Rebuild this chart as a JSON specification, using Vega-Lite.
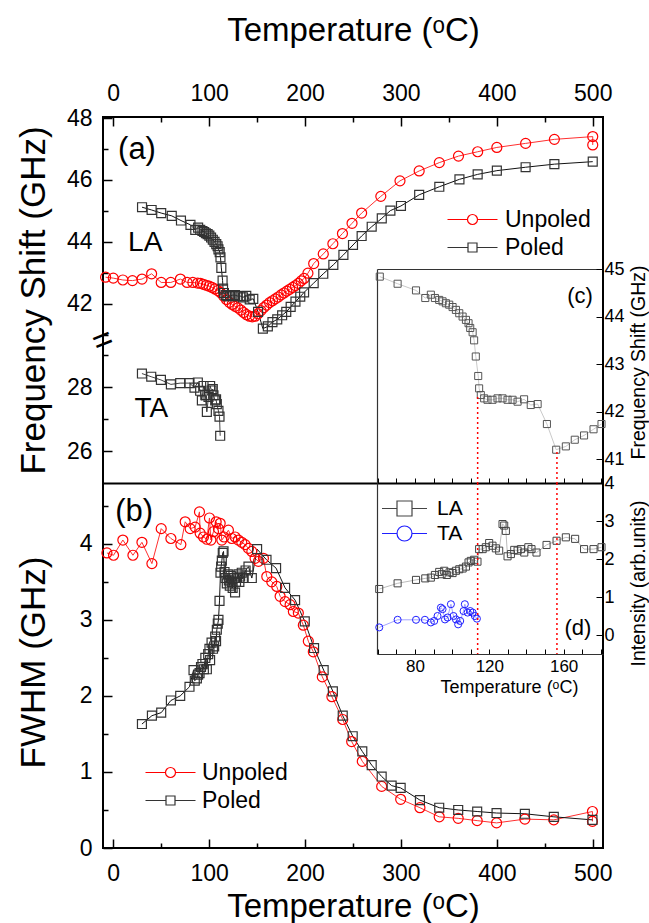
{
"$schema":"https://vega.github.io/schema/vega-lite/v6.json",
"width":500,"height":731,
"autosize":{"type":"none"},
"padding":{"left":103,"top":117,"right":46,"bottom":75},
"background":"white",
"config":{
 "view":{"stroke":"black","strokeWidth":2},
 "font":"Liberation Sans",
 "axis":{"grid":false,"domain":false,"labelFont":"Liberation Sans","labelFontSize":23,"labelColor":"black","tickColor":"black","tickWidth":1.5,"titleFont":"Liberation Sans","titleFontSize":33,"titleFontWeight":"normal","titleColor":"black","labelFlush":false,"labelOverlap":false,"labelBound":false},
 "legend":{"labelFont":"Liberation Sans","labelColor":"black","title":null,"orient":"none","padding":0,"symbolStrokeWidth":1.2},
 "text":{"font":"Liberation Sans","color":"black"}
},
"datasets":{
 "unpoledLA":[{"T":-8,"f":42.86},{"T":0,"f":42.83},{"T":10,"f":42.77},{"T":20,"f":42.75},{"T":30,"f":42.8},{"T":40,"f":42.97},{"T":50,"f":42.69},{"T":60,"f":42.69},{"T":70,"f":42.8},{"T":77,"f":42.69},{"T":83,"f":42.69},{"T":88,"f":42.67},{"T":91,"f":42.66},{"T":94,"f":42.63},{"T":97,"f":42.6},{"T":100,"f":42.57},{"T":103,"f":42.53},{"T":106,"f":42.48},{"T":109,"f":42.43},{"T":112,"f":42.36},{"T":115,"f":42.25},{"T":118,"f":42.14},{"T":121,"f":42.05},{"T":124,"f":41.98},{"T":127,"f":41.92},{"T":130,"f":41.87},{"T":133,"f":41.8},{"T":136,"f":41.72},{"T":139,"f":41.65},{"T":142,"f":41.6},{"T":145,"f":41.58},{"T":148,"f":41.6},{"T":151,"f":41.68},{"T":154,"f":41.78},{"T":157,"f":41.88},{"T":160,"f":41.96},{"T":163,"f":42.04},{"T":166,"f":42.1},{"T":169,"f":42.16},{"T":172,"f":42.22},{"T":175,"f":42.29},{"T":178,"f":42.35},{"T":181,"f":42.41},{"T":184,"f":42.47},{"T":187,"f":42.53},{"T":190,"f":42.59},{"T":193,"f":42.66},{"T":196,"f":42.74},{"T":199,"f":42.82},{"T":203,"f":42.99},{"T":209,"f":43.3},{"T":219,"f":43.61},{"T":229,"f":43.94},{"T":239,"f":44.27},{"T":249,"f":44.6},{"T":259,"f":44.93},{"T":279,"f":45.47},{"T":299,"f":45.97},{"T":319,"f":46.29},{"T":340,"f":46.56},{"T":360,"f":46.77},{"T":380,"f":46.91},{"T":400,"f":47.05},{"T":430,"f":47.18},{"T":460,"f":47.31},{"T":500,"f":47.4},{"T":500,"f":47.13}],
 "poledLA":[{"T":30,"f":45.12},{"T":40,"f":45.03},{"T":50,"f":44.93},{"T":61,"f":44.84},{"T":70.6,"f":44.69},{"T":80.5,"f":44.55},{"T":85.5,"f":44.39},{"T":88.5,"f":44.46},{"T":90.7,"f":44.39},{"T":93,"f":44.35},{"T":94.8,"f":44.32},{"T":96.6,"f":44.28},{"T":98.4,"f":44.25},{"T":100.2,"f":44.2},{"T":102,"f":44.14},{"T":103.8,"f":44.07},{"T":105.6,"f":44.0},{"T":107.4,"f":43.93},{"T":108.8,"f":43.86},{"T":109.7,"f":43.76},{"T":111,"f":43.67},{"T":111.8,"f":43.5},{"T":112.7,"f":43.16},{"T":114,"f":42.75},{"T":114.5,"f":42.49},{"T":115.4,"f":42.35},{"T":117.2,"f":42.28},{"T":119,"f":42.25},{"T":121.7,"f":42.25},{"T":124.4,"f":42.28},{"T":127.1,"f":42.28},{"T":129.8,"f":42.25},{"T":132.5,"f":42.25},{"T":135.2,"f":42.21},{"T":138.7,"f":42.26},{"T":142.3,"f":42.14},{"T":146,"f":42.16},{"T":151,"f":41.74},{"T":156,"f":41.2},{"T":161.2,"f":41.27},{"T":166,"f":41.41},{"T":171,"f":41.5},{"T":176.1,"f":41.63},{"T":180.4,"f":41.74},{"T":185,"f":41.9},{"T":190,"f":42.07},{"T":195,"f":42.23},{"T":199,"f":42.37},{"T":209,"f":42.67},{"T":219,"f":42.97},{"T":229.5,"f":43.26},{"T":240,"f":43.58},{"T":250,"f":43.9},{"T":259,"f":44.19},{"T":269.5,"f":44.49},{"T":280,"f":44.76},{"T":289,"f":45.01},{"T":300,"f":45.16},{"T":319,"f":45.52},{"T":340,"f":45.78},{"T":361,"f":46.02},{"T":380,"f":46.18},{"T":400,"f":46.3},{"T":430,"f":46.41},{"T":460,"f":46.51},{"T":500,"f":46.59}],
 "poledTA":[{"T":29.9,"f":28.43},{"T":39.6,"f":28.33},{"T":49.7,"f":28.23},{"T":60.1,"f":28.09},{"T":69.8,"f":28.13},{"T":79.5,"f":28.13},{"T":84.7,"f":27.99},{"T":88.2,"f":28.15},{"T":90.6,"f":27.89},{"T":92.4,"f":27.59},{"T":94.1,"f":28.04},{"T":96,"f":27.75},{"T":97.6,"f":27.23},{"T":99.3,"f":27.7},{"T":101,"f":28.04},{"T":102.5,"f":27.9},{"T":103.8,"f":27.94},{"T":104.5,"f":27.75},{"T":106.3,"f":27.59},{"T":107.2,"f":27.62},{"T":108,"f":27.47},{"T":109.7,"f":27.26},{"T":110.8,"f":27.08},{"T":111.5,"f":26.48}],
 "unpoledW":[{"T":-6.6,"w":3.88},{"T":0.3,"w":3.85},{"T":10,"w":4.05},{"T":20.5,"w":3.85},{"T":29.9,"w":4.02},{"T":40.3,"w":3.74},{"T":50,"w":4.2},{"T":60.1,"w":4.07},{"T":70.5,"w":3.99},{"T":75,"w":4.29},{"T":80.2,"w":4.2},{"T":85.4,"w":4.22},{"T":89.9,"w":4.42},{"T":90.6,"w":4.14},{"T":94.1,"w":4.09},{"T":97.6,"w":4.06},{"T":100.3,"w":4.34},{"T":101.8,"w":4.05},{"T":104.5,"w":4.16},{"T":107.3,"w":4.29},{"T":109.7,"w":4.2},{"T":111.5,"w":4.27},{"T":113.2,"w":4.05},{"T":115.6,"w":4.09},{"T":120.1,"w":4.18},{"T":123.6,"w":4.07},{"T":127.1,"w":4.09},{"T":130.5,"w":4.05},{"T":134,"w":4.02},{"T":137.5,"w":3.99},{"T":141,"w":3.94},{"T":144.5,"w":3.9},{"T":147.9,"w":3.81},{"T":151.4,"w":3.77},{"T":156.6,"w":3.81},{"T":160.1,"w":3.57},{"T":165.3,"w":3.5},{"T":170.5,"w":3.44},{"T":174,"w":3.31},{"T":179.2,"w":3.24},{"T":184.4,"w":3.2},{"T":187.8,"w":3.11},{"T":193,"w":3.09},{"T":198.2,"w":2.93},{"T":203.4,"w":2.72},{"T":208.6,"w":2.58},{"T":218,"w":2.25},{"T":228,"w":1.99},{"T":239.3,"w":1.69},{"T":248.6,"w":1.4},{"T":259.7,"w":1.14},{"T":279.9,"w":0.81},{"T":299.7,"w":0.64},{"T":319.8,"w":0.53},{"T":339.9,"w":0.41},{"T":359.7,"w":0.39},{"T":379.5,"w":0.36},{"T":399.7,"w":0.33},{"T":429.2,"w":0.38},{"T":459.4,"w":0.37},{"T":499.7,"w":0.48},{"T":499.7,"w":0.35}],
 "poledW":[{"T":29.9,"w":1.63},{"T":40.3,"w":1.74},{"T":50,"w":1.78},{"T":60.1,"w":1.94},{"T":69.8,"w":2.0},{"T":79.5,"w":2.12},{"T":83.7,"w":2.34},{"T":85,"w":2.2},{"T":87.2,"w":2.23},{"T":88.5,"w":2.28},{"T":90,"w":2.3},{"T":91.5,"w":2.38},{"T":93,"w":2.42},{"T":94.5,"w":2.35},{"T":96,"w":2.5},{"T":97.6,"w":2.35},{"T":99,"w":2.55},{"T":100.3,"w":2.62},{"T":101,"w":2.47},{"T":102.5,"w":2.7},{"T":104,"w":2.62},{"T":105.2,"w":2.65},{"T":106.3,"w":2.78},{"T":107.2,"w":2.72},{"T":108,"w":2.87},{"T":109,"w":2.95},{"T":109.7,"w":3.0},{"T":110.8,"w":3.25},{"T":111.8,"w":3.62},{"T":112.5,"w":3.7},{"T":113.2,"w":3.78},{"T":114.2,"w":3.88},{"T":115,"w":3.9},{"T":116,"w":3.63},{"T":117,"w":3.55},{"T":118.4,"w":3.48},{"T":119.5,"w":3.6},{"T":120.5,"w":3.52},{"T":121.5,"w":3.45},{"T":122.5,"w":3.58},{"T":123.5,"w":3.5},{"T":124.5,"w":3.42},{"T":125.5,"w":3.55},{"T":127,"w":3.36},{"T":128,"w":3.5},{"T":129,"w":3.55},{"T":130.5,"w":3.6},{"T":131.5,"w":3.5},{"T":132.3,"w":3.57},{"T":134,"w":3.62},{"T":136,"w":3.55},{"T":138,"w":3.65},{"T":141,"w":3.7},{"T":144.5,"w":3.55},{"T":150,"w":3.93},{"T":159.8,"w":3.79},{"T":169.8,"w":3.68},{"T":179.2,"w":3.42},{"T":189.6,"w":3.26},{"T":199.7,"w":2.98},{"T":209.4,"w":2.63},{"T":219.4,"w":2.34},{"T":229,"w":2.06},{"T":239.3,"w":1.74},{"T":249.7,"w":1.47},{"T":259.7,"w":1.27},{"T":269.5,"w":1.09},{"T":279.9,"w":0.94},{"T":290.3,"w":0.82},{"T":299.7,"w":0.79},{"T":319.8,"w":0.63},{"T":339.9,"w":0.53},{"T":359.7,"w":0.5},{"T":379.5,"w":0.48},{"T":399.7,"w":0.46},{"T":429.2,"w":0.45},{"T":459.4,"w":0.41},{"T":499.7,"w":0.37}],
 "intLA":[{"T":60.7,"i":1.21},{"T":70.6,"i":1.36},{"T":80.5,"i":1.45},{"T":85.5,"i":1.49},{"T":88.5,"i":1.51},{"T":90.7,"i":1.58},{"T":93,"i":1.66},{"T":94.3,"i":1.6},{"T":95.7,"i":1.69},{"T":97.1,"i":1.58},{"T":98.6,"i":1.65},{"T":100.2,"i":1.63},{"T":102,"i":1.69},{"T":103.8,"i":1.73},{"T":105.6,"i":1.75},{"T":107.4,"i":1.8},{"T":108.8,"i":1.91},{"T":110,"i":1.95},{"T":111.8,"i":1.98},{"T":113.6,"i":1.93},{"T":114.5,"i":2.26},{"T":116.4,"i":2.26},{"T":118.1,"i":2.31},{"T":119.9,"i":2.42},{"T":121.7,"i":2.35},{"T":123.5,"i":2.28},{"T":125.3,"i":2.22},{"T":127.1,"i":2.92},{"T":128,"i":2.88},{"T":128.9,"i":2.74},{"T":129.8,"i":2.07},{"T":131.6,"i":2.13},{"T":133.4,"i":2.24},{"T":135.2,"i":2.22},{"T":137,"i":2.26},{"T":138.8,"i":2.17},{"T":141,"i":2.31},{"T":142.7,"i":2.26},{"T":145.4,"i":2.17},{"T":150.8,"i":2.37},{"T":156.2,"i":2.48},{"T":161.2,"i":2.57},{"T":166.2,"i":2.53},{"T":171,"i":2.26},{"T":176.1,"i":2.26},{"T":180.4,"i":2.31}],
 "intTA":[{"T":60.7,"i":0.2},{"T":70.6,"i":0.4},{"T":80.5,"i":0.4},{"T":85.3,"i":0.4},{"T":88.5,"i":0.33},{"T":90.3,"i":0.37},{"T":92.1,"i":0.5},{"T":93.9,"i":0.72},{"T":94.8,"i":0.68},{"T":96.1,"i":0.41},{"T":97.5,"i":0.46},{"T":99.3,"i":0.81},{"T":100.7,"i":0.5},{"T":102,"i":0.41},{"T":103.2,"i":0.28},{"T":104.3,"i":0.37},{"T":106.1,"i":0.63},{"T":106.8,"i":0.81},{"T":108.3,"i":0.59},{"T":109.7,"i":0.63},{"T":111,"i":0.59},{"T":112.2,"i":0.5},{"T":113.3,"i":0.43}],
 "markers":[{"T":113.7,"ftop":42.31},{"T":156.4,"ftop":41.15}],
 "one":[{"k":1}]
},
"layer":[
 {"data":{"name":"unpoledLA"},"mark":{"type":"line","color":"#ff3030","strokeWidth":1},
  "encoding":{"x":{"field":"T","type":"quantitative","scale":{"domain":[-10.7,510.7],"nice":false,"zero":false},
    "axis":{"orient":"top","values":[0,100,200,300,400,500],"tickSize":-9,"labelPadding":21,"title":"Temperature (ᵒC)","titleY":-87,"titleBaseline":"middle"}},
   "y":{"field":"f","type":"quantitative","scale":{"domain":[40.8,48],"range":[224,1],"nice":false,"zero":false},
    "axis":{"orient":"left","values":[42,44,46,48],"tickSize":-9,"labelPadding":20,"title":"Frequency Shift (GHz)","titleFontSize":35,"titleX":-70,"titleY":183,"titleBaseline":"middle"}}}},
 {"data":{"name":"poledLA"},"mark":{"type":"line","color":"#111111","strokeWidth":1},
  "encoding":{"x":{"field":"T","type":"quantitative","scale":{"domain":[-10.7,510.7],"nice":false,"zero":false},"axis":null},
   "y":{"field":"f","type":"quantitative","scale":{"domain":[40.8,48],"range":[224,1],"nice":false,"zero":false},"axis":null}}},
 {"data":{"name":"unpoledLA"},"mark":{"type":"point","shape":"circle","filled":false,"size":100,"strokeWidth":1.2,"opacity":1},
  "encoding":{"x":{"field":"T","type":"quantitative","scale":{"domain":[-10.7,510.7],"nice":false,"zero":false},"axis":null},
   "y":{"field":"f","type":"quantitative","scale":{"domain":[40.8,48],"range":[224,1],"nice":false,"zero":false},"axis":null},
   "color":{"datum":"Unpoled","type":"nominal","scale":{"domain":["Unpoled"],"range":["#ff0000"]},
    "legend":{"legendX":358,"legendY":91,"labelFontSize":23,"symbolSize":100,"labelOffset":21,"symbolType":"M-5,0L-1,0M1,0L5,0M1,0A1,1,0,1,1,-1,0A1,1,0,1,1,1,0"}}}},
 {"data":{"name":"poledLA"},"mark":{"type":"point","shape":"square","filled":false,"size":80,"strokeWidth":1.2,"opacity":1},
  "encoding":{"x":{"field":"T","type":"quantitative","scale":{"domain":[-10.7,510.7],"nice":false,"zero":false},"axis":null},
   "y":{"field":"f","type":"quantitative","scale":{"domain":[40.8,48],"range":[224,1],"nice":false,"zero":false},"axis":null},
   "color":{"datum":"Poled","type":"nominal","scale":{"domain":["Poled"],"range":["#333333"]},
    "legend":{"legendX":358,"legendY":119,"labelFontSize":23,"symbolSize":100,"labelOffset":21,"symbolType":"M-5,0L-0.9,0M0.9,0L5,0M-0.9,-0.9L0.9,-0.9L0.9,0.9L-0.9,0.9Z"}}}},
 {"data":{"name":"poledTA"},"mark":{"type":"line","color":"#111111","strokeWidth":0.8},
  "encoding":{"x":{"field":"T","type":"quantitative","scale":{"domain":[-10.7,510.7],"nice":false,"zero":false},
    "axis":{"orient":"bottom","offset":-365,"domain":true,"domainColor":"black","domainWidth":2,"ticks":false,"labels":false,"title":null}},
   "y":{"field":"f","type":"quantitative","scale":{"domain":[25,29.45],"range":[366,224],"nice":false,"zero":false},
    "axis":{"orient":"left","values":[26,28],"tickSize":-9,"labelPadding":20,"title":null}}}},
 {"data":{"name":"poledTA"},"mark":{"type":"point","shape":"square","filled":false,"size":80,"strokeWidth":1.2,"opacity":1,"color":"#333333"},
  "encoding":{"x":{"field":"T","type":"quantitative","scale":{"domain":[-10.7,510.7],"nice":false,"zero":false},"axis":null},
   "y":{"field":"f","type":"quantitative","scale":{"domain":[25,29.45],"range":[366,224],"nice":false,"zero":false},"axis":null}}},
 {"data":{"name":"unpoledW"},"mark":{"type":"line","color":"#ff3030","strokeWidth":1},
  "encoding":{"x":{"field":"T","type":"quantitative","scale":{"domain":[-10.7,510.7],"nice":false,"zero":false},
    "axis":{"orient":"bottom","values":[0,100,200,300,400,500],"tickSize":-9,"labelPadding":23,"title":"Temperature (ᵒC)","titleY":58,"titleBaseline":"middle"}},
   "y":{"field":"w","type":"quantitative","scale":{"domain":[0,4.8],"range":[731,366],"nice":false,"zero":false},
    "axis":{"orient":"left","values":[0,1,2,3,4],"tickSize":-9,"labelPadding":20,"title":"FWHM (GHz)","titleFontSize":35,"titleX":-70,"titleY":545,"titleBaseline":"middle"}}}},
 {"data":{"name":"poledW"},"mark":{"type":"line","color":"#111111","strokeWidth":1},
  "encoding":{"x":{"field":"T","type":"quantitative","scale":{"domain":[-10.7,510.7],"nice":false,"zero":false},"axis":null},
   "y":{"field":"w","type":"quantitative","scale":{"domain":[0,4.8],"range":[731,366],"nice":false,"zero":false},"axis":null}}},
 {"data":{"name":"unpoledW"},"mark":{"type":"point","shape":"circle","filled":false,"size":100,"strokeWidth":1.2,"opacity":1},
  "encoding":{"x":{"field":"T","type":"quantitative","scale":{"domain":[-10.7,510.7],"nice":false,"zero":false},"axis":null},
   "y":{"field":"w","type":"quantitative","scale":{"domain":[0,4.8],"range":[731,366],"nice":false,"zero":false},"axis":null},
   "color":{"datum":"Unpoled","type":"nominal","scale":{"domain":["Unpoled"],"range":["#ff0000"]},
    "legend":{"legendX":56,"legendY":644,"labelFontSize":23,"symbolSize":100,"labelOffset":20,"symbolType":"M-5,0L-1,0M1,0L5,0M1,0A1,1,0,1,1,-1,0A1,1,0,1,1,1,0"}}}},
 {"data":{"name":"poledW"},"mark":{"type":"point","shape":"square","filled":false,"size":80,"strokeWidth":1.2,"opacity":1},
  "encoding":{"x":{"field":"T","type":"quantitative","scale":{"domain":[-10.7,510.7],"nice":false,"zero":false},"axis":null},
   "y":{"field":"w","type":"quantitative","scale":{"domain":[0,4.8],"range":[731,366],"nice":false,"zero":false},"axis":null},
   "color":{"datum":"Poled","type":"nominal","scale":{"domain":["Poled"],"range":["#333333"]},
    "legend":{"legendX":56,"legendY":672,"labelFontSize":23,"symbolSize":100,"labelOffset":20,"symbolType":"M-5,0L-0.9,0M0.9,0L5,0M-0.9,-0.9L0.9,-0.9L0.9,0.9L-0.9,0.9Z"}}}},
 {"data":{"name":"poledLA"},"transform":[{"filter":"datum.T >= 59.5 && datum.T <= 181.2"}],"mark":{"type":"line","color":"#bbbbbb","strokeWidth":0.8},
  "encoding":{"x":{"field":"T","type":"quantitative","scale":{"domain":[59.5,181.2],"range":[274,500],"nice":false,"zero":false},
    "axis":{"orient":"bottom","offset":-365,"values":[60,70,80,90,100,110,120,130,140,150,160,170,180],"tickSize":-5,"tickWidth":1,"labels":false,"title":null}},
   "y":{"field":"f","type":"quantitative","scale":{"domain":[40.5,45],"range":[366,152],"nice":false,"zero":false},
    "axis":{"orient":"right","values":[41,42,43,44,45],"tickSize":-7,"tickWidth":1,"labelPadding":8,"labelFontSize":18,"title":"Frequency Shift (GHz)","titleFontSize":19.5,"titleAngle":270,"titleX":35,"titleY":245,"titleBaseline":"middle"}}}},
 {"data":{"name":"poledLA"},"transform":[{"filter":"datum.T >= 59.5 && datum.T <= 181.2"}],"mark":{"type":"point","shape":"square","filled":false,"size":50,"strokeWidth":1,"opacity":1,"color":"#555555"},
  "encoding":{"x":{"field":"T","type":"quantitative","scale":{"domain":[59.5,181.2],"range":[274,500],"nice":false,"zero":false},"axis":null},
   "y":{"field":"f","type":"quantitative","scale":{"domain":[40.5,45],"range":[366,152],"nice":false,"zero":false},"axis":null}}},
 {"data":{"name":"intLA"},"mark":{"type":"line","color":"#aaaaaa","strokeWidth":0.8},
  "encoding":{"x":{"field":"T","type":"quantitative","scale":{"domain":[59.5,181.2],"range":[274,500],"nice":false,"zero":false},
    "axis":{"orient":"bottom","offset":-194,"values":[60,70,80,90,100,110,120,130,140,150,160,170,180],"labelExpr":"datum.value % 40 === 0 ? datum.label : ''","tickSize":-5,"tickWidth":1,"labelPadding":9,"labelFontSize":17,"domain":true,"domainColor":"#333333","domainWidth":1.2,"title":"Temperature (ᵒC)","titleFontSize":18,"titleX":406,"titleY":33,"titleBaseline":"middle"}},
   "y":{"field":"i","type":"quantitative","scale":{"domain":[-0.5,4],"range":[537,366],"nice":false,"zero":false},
    "axis":{"orient":"right","values":[0,1,2,3,4],"tickSize":-7,"tickWidth":1,"labelPadding":8,"labelFontSize":18,"title":"Intensity (arb.units)","titleFontSize":19.5,"titleAngle":270,"titleX":35,"titleY":466,"titleBaseline":"middle"}}}},
 {"data":{"name":"intTA"},"mark":{"type":"line","color":"#8c8cff","strokeWidth":0.8},
  "encoding":{"x":{"field":"T","type":"quantitative","scale":{"domain":[59.5,181.2],"range":[274,500],"nice":false,"zero":false},"axis":null},
   "y":{"field":"i","type":"quantitative","scale":{"domain":[-0.5,4],"range":[537,366],"nice":false,"zero":false},"axis":null}}},
 {"data":{"name":"intLA"},"mark":{"type":"point","shape":"square","filled":false,"size":50,"strokeWidth":1,"opacity":1},
  "encoding":{"x":{"field":"T","type":"quantitative","scale":{"domain":[59.5,181.2],"range":[274,500],"nice":false,"zero":false},"axis":null},
   "y":{"field":"i","type":"quantitative","scale":{"domain":[-0.5,4],"range":[537,366],"nice":false,"zero":false},"axis":null},
   "color":{"datum":"LA","type":"nominal","scale":{"domain":["LA"],"range":["#444444"]},
    "legend":{"legendX":291,"legendY":381,"labelFontSize":21,"symbolSize":225,"labelOffset":22,"symbolType":"M-3,0L-1,0M1,0L3,0M-1,-1L1,-1L1,1L-1,1Z"}}}},
 {"data":{"name":"intTA"},"mark":{"type":"point","shape":"circle","filled":false,"size":50,"strokeWidth":1,"opacity":1},
  "encoding":{"x":{"field":"T","type":"quantitative","scale":{"domain":[59.5,181.2],"range":[274,500],"nice":false,"zero":false},"axis":null},
   "y":{"field":"i","type":"quantitative","scale":{"domain":[-0.5,4],"range":[537,366],"nice":false,"zero":false},"axis":null},
   "color":{"datum":"TA","type":"nominal","scale":{"domain":["TA"],"range":["#1f1fff"]},
    "legend":{"legendX":291,"legendY":406,"labelFontSize":21,"symbolSize":225,"labelOffset":22,"symbolType":"M-3,0L-1,0M1,0L3,0M1,0A1,1,0,1,1,-1,0A1,1,0,1,1,1,0"}}}},
 {"data":{"name":"markers"},"mark":{"type":"rule","color":"#ff0000","strokeWidth":1.5,"strokeDash":[2,3]},
  "encoding":{"x":{"field":"T","type":"quantitative","scale":{"domain":[59.5,181.2],"range":[274,500],"nice":false,"zero":false},"axis":null},
   "y":{"field":"ftop","type":"quantitative","scale":{"domain":[40.5,45],"range":[366,152],"nice":false,"zero":false},"axis":null},
   "y2":{"datum":40.5}}},
 {"data":{"name":"markers"},"mark":{"type":"rule","color":"#ff0000","strokeWidth":1.5,"strokeDash":[2,3]},
  "encoding":{"x":{"field":"T","type":"quantitative","scale":{"domain":[59.5,181.2],"range":[274,500],"nice":false,"zero":false},"axis":null},
   "y":{"datum":4,"type":"quantitative","scale":{"domain":[-0.5,4],"range":[537,366],"nice":false,"zero":false},"axis":null},
   "y2":{"datum":-0.5}}},
 {"data":{"name":"one"},"mark":{"type":"text","text":"(a)","fontSize":31,"align":"left","baseline":"middle"},
  "encoding":{"x":{"datum":5,"type":"quantitative","scale":{"domain":[-10.7,510.7],"nice":false,"zero":false},
    "axis":{"orient":"top","values":[50,150,250,350,450],"tickSize":-5,"labels":false,"title":null}},
   "y":{"datum":46.97,"type":"quantitative","scale":{"domain":[40.8,48],"range":[224,1],"nice":false,"zero":false},
    "axis":{"orient":"left","values":[41,43,45,47],"tickSize":-5,"labels":false,"title":null}}}},
 {"data":{"name":"one"},"mark":{"type":"text","text":"LA","fontSize":28,"align":"center","baseline":"middle"},
  "encoding":{"x":{"datum":33.3,"type":"quantitative","scale":{"domain":[-10.7,510.7],"nice":false,"zero":false},"axis":null},
   "y":{"datum":43.97,"type":"quantitative","scale":{"domain":[40.8,48],"range":[224,1],"nice":false,"zero":false},"axis":null}}},
 {"data":{"name":"one"},"mark":{"type":"text","text":"=","fontSize":34,"angle":-22,"align":"center","baseline":"middle"},
  "encoding":{"x":{"datum":-10.7,"type":"quantitative","scale":{"domain":[-10.7,510.7],"nice":false,"zero":false},"axis":null},
   "y":{"datum":40.8,"type":"quantitative","scale":{"domain":[40.8,48],"range":[224,1],"nice":false,"zero":false},"axis":null}}},
 {"data":{"name":"one"},"mark":{"type":"text","text":"TA","fontSize":28,"align":"center","baseline":"middle"},
  "encoding":{"x":{"datum":39.6,"type":"quantitative","scale":{"domain":[-10.7,510.7],"nice":false,"zero":false},"axis":null},
   "y":{"datum":27.31,"type":"quantitative","scale":{"domain":[25,29.45],"range":[366,224],"nice":false,"zero":false},
    "axis":{"orient":"left","values":[27,29],"tickSize":-5,"labels":false,"title":null}}}},
 {"data":{"name":"one"},"mark":{"type":"text","text":"(b)","fontSize":31,"align":"left","baseline":"middle"},
  "encoding":{"x":{"datum":2.1,"type":"quantitative","scale":{"domain":[-10.7,510.7],"nice":false,"zero":false},
    "axis":{"orient":"bottom","values":[50,150,250,350,450],"tickSize":-5,"labels":false,"title":null}},
   "y":{"datum":4.42,"type":"quantitative","scale":{"domain":[0,4.8],"range":[731,366],"nice":false,"zero":false},
    "axis":{"orient":"left","values":[0.5,1.5,2.5,3.5,4.5],"tickSize":-5,"labels":false,"title":null}}}},
 {"data":{"name":"one"},"mark":{"type":"text","text":"(c)","fontSize":22,"align":"center","baseline":"middle"},
  "encoding":{"x":{"datum":168.8,"type":"quantitative","scale":{"domain":[59.5,181.2],"range":[274,500],"nice":false,"zero":false},
    "axis":{"orient":"top","offset":-152,"domain":true,"domainColor":"#333333","domainWidth":1.2,"ticks":false,"labels":false,"title":null}},
   "y":{"datum":44.43,"type":"quantitative","scale":{"domain":[40.5,45],"range":[366,152],"nice":false,"zero":false},
    "axis":{"orient":"left","offset":-274,"domain":true,"domainColor":"#333333","domainWidth":1.2,"ticks":false,"labels":false,"title":null}}}},
 {"data":{"name":"one"},"mark":{"type":"text","text":"(d)","fontSize":22,"align":"center","baseline":"middle"},
  "encoding":{"x":{"datum":167.7,"type":"quantitative","scale":{"domain":[59.5,181.2],"range":[274,500],"nice":false,"zero":false},"axis":null},
   "y":{"datum":0.18,"type":"quantitative","scale":{"domain":[-0.5,4],"range":[537,366],"nice":false,"zero":false},
    "axis":{"orient":"left","offset":-274,"domain":true,"domainColor":"#333333","domainWidth":1.2,"ticks":false,"labels":false,"title":null}}}}
],
"resolve":{"scale":{"x":"independent","y":"independent","color":"independent"},"axis":{"x":"independent","y":"independent"},"legend":{"color":"independent"}}
}
